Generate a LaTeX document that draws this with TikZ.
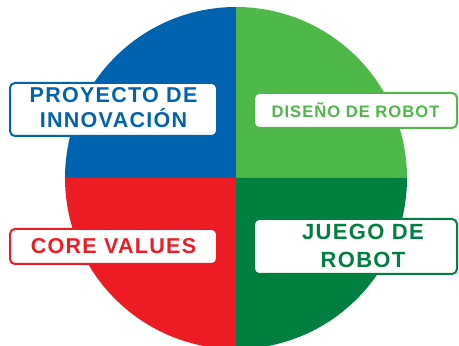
\documentclass[tikz,border=0pt]{standalone}
\usepackage{fontspec}
\newfontfamily\lblfont[LetterSpace=6]{Liberation Sans}
\usetikzlibrary{positioning}
\definecolor{pblue}{RGB}{0,99,175}
\definecolor{pgreen}{RGB}{78,184,72}
\definecolor{pred}{RGB}{237,28,36}
\definecolor{pdkgreen}{RGB}{0,128,64}

\begin{document}
\begin{tikzpicture}[x=1pt, y=1pt,
  tag/.style = {draw, fill=white, line width=2pt, rounded corners=5pt, inner sep=0},
  tagtext/.style 2 args = {align=center, inner sep=0, font=\lblfont\bfseries\fontsize{#1}{#2}\selectfont}]

\useasboundingbox (0,0) rectangle (459,346);
\clip (0,0) rectangle (459,346);

% quadrants
\coordinate (c) at (236,168);
\fill[pblue] (c) -- ++(0,171) arc[start angle=90, end angle=180, radius=171] -- cycle;
\fill[pgreen] (c) -- ++(171,0) arc[start angle=0, end angle=90, radius=171] -- cycle;
\fill[pred] (c) -- ++(-171,0) arc[start angle=180, end angle=270, radius=171] -- cycle;
\fill[pdkgreen] (c) -- ++(0,-171) arc[start angle=270, end angle=360, radius=171] -- cycle;

% boxes
\node[tag, draw=pblue, minimum width=207pt, minimum height=53pt] (b1) at (113.5,236.5) {};
\node[tag, draw=pgreen, minimum width=203pt, minimum height=35pt] (b2) at (355.5,235.5) {};
\node[tag, draw=pred, minimum width=207pt, minimum height=35pt] (b3) at (113.5,99.5) {};
\node[tag, draw=pdkgreen, minimum width=203pt, minimum height=55pt] (b4) at (355.5,99.5) {};

% labels
\node[tagtext={21.5}{25}, text=pblue] (t1) at ([yshift=2pt]b1.center) {PROYECTO DE\\INNOVACIÓN};
\node[tagtext={16.6}{20}, text=pgreen] (t2) at (b2.center) {DISEÑO DE ROBOT};
\node[tagtext={21.5}{25}, text=pred] (t3) at (b3.center) {CORE VALUES};
\node[tagtext={22}{28}, text=pdkgreen] (t4) at ([xshift=7.5pt, yshift=1pt]b4.center) {JUEGO DE\\ROBOT};

\end{tikzpicture}
\end{document}
